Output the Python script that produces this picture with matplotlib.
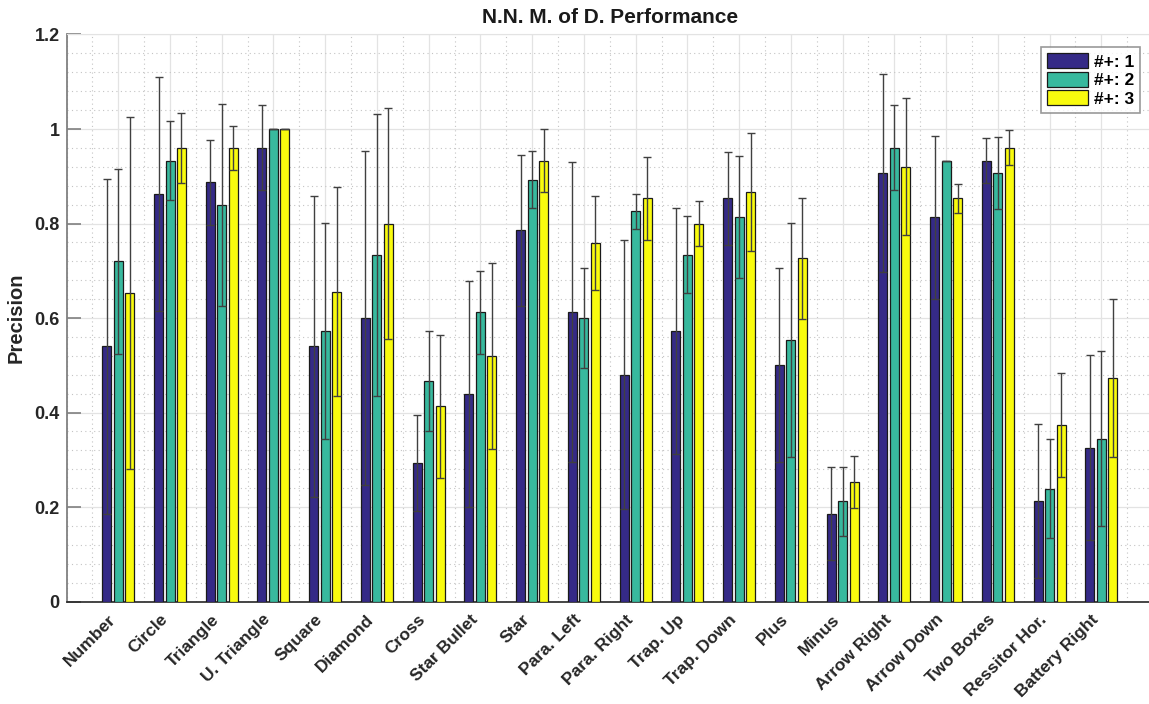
import numpy as np
import matplotlib
matplotlib.use("Agg")
import matplotlib.pyplot as plt
from matplotlib.ticker import MultipleLocator

plt.rcParams['font.family'] = ['Liberation Sans', 'DejaVu Sans']
plt.rcParams['font.weight'] = 'bold'

categories = ["Number", "Circle", "Triangle", "U. Triangle", "Square", "Diamond",
              "Cross", "Star Bullet", "Star", "Para. Left", "Para. Right", "Trap. Up",
              "Trap. Down", "Plus", "Minus", "Arrow Right", "Arrow Down", "Two Boxes",
              "Ressitor Hor.", "Battery Right"]

series_labels = ["#+: 1", "#+: 2", "#+: 3"]

prec_1 = [0.540, 0.862, 0.887, 0.960, 0.540, 0.600, 0.293, 0.439, 0.786, 0.613,
          0.480, 0.572, 0.853, 0.500, 0.186, 0.907, 0.813, 0.933, 0.212, 0.326]
prec_2 = [0.720, 0.933, 0.839, 1.000, 0.572, 0.734, 0.466, 0.612, 0.893, 0.600,
          0.826, 0.734, 0.813, 0.553, 0.212, 0.960, 0.933, 0.907, 0.239, 0.345]
prec_3 = [0.653, 0.960, 0.960, 1.000, 0.656, 0.800, 0.413, 0.519, 0.933, 0.759,
          0.853, 0.800, 0.867, 0.726, 0.253, 0.920, 0.853, 0.960, 0.373, 0.473]

err_1 = [0.355, 0.248, 0.090, 0.090, 0.318, 0.354, 0.101, 0.239, 0.160, 0.317,
         0.285, 0.260, 0.099, 0.205, 0.099, 0.209, 0.173, 0.047, 0.163, 0.195]
err_2 = [0.196, 0.084, 0.214, 0.000, 0.229, 0.298, 0.106, 0.088, 0.060, 0.105,
         0.037, 0.081, 0.129, 0.248, 0.073, 0.090, 0.000, 0.077, 0.105, 0.186]
err_3 = [0.372, 0.074, 0.047, 0.000, 0.222, 0.244, 0.152, 0.197, 0.067, 0.100,
         0.087, 0.047, 0.125, 0.128, 0.056, 0.145, 0.030, 0.037, 0.110, 0.168]

y_ticks = [0, 0.2, 0.4, 0.6, 0.8, 1.0, 1.2]
y_tick_labels = ["0", "0.2", "0.4", "0.6", "0.8", "1", "1.2"]

colors = ["#352a87", "#38b99e", "#f9fb0e"]

fig = plt.figure(figsize=(11.49, 7.04), dpi=100)
ax = fig.add_axes([0.0579, 0.1455, 0.9456, 0.8055])

x = np.arange(1, len(categories) + 1)
width = 0.174
offsets = [-0.222, 0.0, 0.222]

for vals, errs, col, lab, off in zip([prec_1, prec_2, prec_3],
                                     [err_1, err_2, err_3],
                                     colors, series_labels, offsets):
    ax.bar(x + off, vals, width=width, color=col, edgecolor="#1a1a1a",
           linewidth=0.9, label=lab, zorder=3)
    ax.errorbar(x + off, vals, yerr=errs, fmt="none", ecolor="#404040",
                elinewidth=1.0, capsize=3.2, capthick=1.0, zorder=4)

ax.set_xlim(0, 21)
ax.set_ylim(0, 1.2)
ax.set_xticks(x)
ax.set_xticklabels(categories, rotation=45, ha="right", va="bottom",
                   rotation_mode="anchor", fontsize=12.5, fontweight="bold",
                   color="#262626")
ax.xaxis.set_minor_locator(MultipleLocator(0.5))
ax.set_yticks(y_ticks)
ax.set_yticklabels(y_tick_labels, fontsize=13, fontweight="bold", color="#262626")
ax.yaxis.set_minor_locator(MultipleLocator(0.04))
ax.tick_params(axis="y", which="major", direction="in", length=10, width=1.2,
               color="#808080", pad=5)
ax.tick_params(axis="y", which="minor", length=0)
ax.tick_params(axis="x", which="both", length=0, pad=15)

ax.grid(True, which="major", color="#e3e3e3", linewidth=0.9, linestyle="-", zorder=0)
ax.grid(True, which="minor", color="#c4c4c4", linewidth=0.8,
        linestyle=(0, (1, 3)), zorder=0)
ax.set_axisbelow(True)

ax.spines["top"].set_color("#e3e3e3")
ax.spines["right"].set_visible(False)
ax.spines["left"].set_color("#808080")
ax.spines["left"].set_linewidth(1.3)
ax.spines["bottom"].set_color("#262626")
ax.spines["bottom"].set_linewidth(1.2)

ax.set_title("N.N. M. of D. Performance", fontsize=15, fontweight="bold",
             color="#1a1a1a", pad=8)
ax.set_ylabel("Precision", fontsize=14.5, fontweight="bold", color="#262626",
              labelpad=6)

leg = ax.legend(loc="upper right", bbox_to_anchor=(0.988, 0.978),
                prop={"weight": "bold", "size": 12.5}, frameon=True,
                fancybox=False, edgecolor="#808080", handlelength=2.4,
                handleheight=0.95, handletextpad=0.3, labelspacing=0.12,
                borderpad=0.35, borderaxespad=0.0)
leg.get_frame().set_linewidth(1.2)

fig.savefig("out.png", dpi=100)
